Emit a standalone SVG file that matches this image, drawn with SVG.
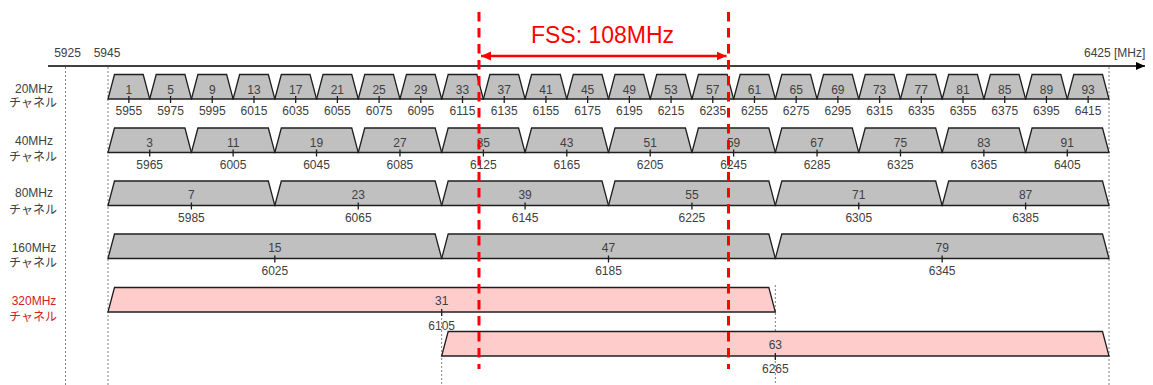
<svg xmlns="http://www.w3.org/2000/svg" xmlns:xlink="http://www.w3.org/1999/xlink" width="1153" height="385" viewBox="0 0 1153 385">
<style>
.band{fill:#c0c0c0;stroke:#1f1f1f;stroke-width:1.3;stroke-linejoin:miter}
.pink{fill:#ffcccc;stroke:#1f1f1f;stroke-width:1.3;stroke-linejoin:miter}
.tick{stroke:#1f1f1f;stroke-width:1.3;fill:none}
.t{font-family:"Liberation Sans",Arial,sans-serif;font-size:12px;fill:#404040;text-anchor:middle}
.lbl{font-family:"Liberation Sans","Noto Sans CJK JP",sans-serif;font-size:12px;fill:#404040;text-anchor:middle}
.red{fill:#d42020}
.guide{stroke:#808080;stroke-width:1;stroke-dasharray:2 2;fill:none}
.fssline{stroke:#ff0000;stroke-width:3;stroke-dasharray:9.5 6.5;fill:none}
</style>
<defs>
<g id="c20"><path class="band" d="M0,24.5 L6.5,0 H35.21 L41.71,24.5 Z"/><path class="tick" d="M20.85,21.5 V28.5"/></g>
<g id="c40"><path class="band" d="M0,24.5 L6.5,0 H76.92 L83.42,24.5 Z"/><path class="tick" d="M41.71,21.5 V28.5"/></g>
<g id="c80"><path class="band" d="M0,24.5 L6.5,0 H160.33 L166.83,24.5 Z"/><path class="tick" d="M83.42,21.5 V28.5"/></g>
<g id="c160"><path class="band" d="M0,24.5 L6.5,0 H327.17 L333.67,24.5 Z"/><path class="tick" d="M166.83,21.5 V28.5"/></g>
<g id="c320"><path class="pink" d="M0,24.5 L6.5,0 H660.83 L667.33,24.5 Z"/><path class="tick" d="M333.67,21.5 V28.5"/></g>
<marker id="ah" viewBox="0 0 10 10" refX="10" refY="5" markerWidth="10" markerHeight="10" markerUnits="userSpaceOnUse" orient="auto-start-reverse"><path d="M0,0.5 L10,5 L0,9.5 Z" fill="#ff0000"/></marker>
<marker id="axh" viewBox="0 0 10 10" refX="10" refY="5" markerWidth="9" markerHeight="9" markerUnits="userSpaceOnUse" orient="auto"><path d="M0,0.5 L10,5 L0,9.5 Z" fill="#000"/></marker>
</defs>

<g id="guides">
<path class="guide" d="M65.5,67 V385 M108,67 V385 M1109,67 V385 M441.67,314 V385 M775.33,285 V385"/>
</g>

<g id="axis">
<path d="M48,66 H1145" stroke="#000" stroke-width="1.5" marker-end="url(#axh)"/>
<text class="t" x="67.5" y="57">5925</text>
<text class="t" x="107" y="57">5945</text>
<text class="t" x="1084" y="57" style="text-anchor:start">6425 [MHz]</text>
</g>

<g id="row-labels">
<text class="lbl" x="34" y="93">20MHz</text><text class="lbl" x="33" y="107">チャネル</text>
<text class="lbl" x="34" y="145">40MHz</text><text class="lbl" x="33" y="161">チャネル</text>
<text class="lbl" x="34" y="197">80MHz</text><text class="lbl" x="33" y="214">チャネル</text>
<text class="lbl" x="34" y="252">160MHz</text><text class="lbl" x="33" y="266.5">チャネル</text>
<text class="lbl red" x="34" y="305">320MHz</text><text class="lbl red" x="33" y="320.5">チャネル</text>
</g>

<g id="row20">
<g id="ch1" transform="translate(108,74.5)"><use href="#c20"/><text class="t" x="20.85" y="19">1</text><text class="t" x="20.85" y="40.5">5955</text></g>
<g id="ch5" transform="translate(149.71,74.5)"><use href="#c20"/><text class="t" x="20.85" y="19">5</text><text class="t" x="20.85" y="40.5">5975</text></g>
<g id="ch9" transform="translate(191.42,74.5)"><use href="#c20"/><text class="t" x="20.85" y="19">9</text><text class="t" x="20.85" y="40.5">5995</text></g>
<g id="ch13" transform="translate(233.13,74.5)"><use href="#c20"/><text class="t" x="20.85" y="19">13</text><text class="t" x="20.85" y="40.5">6015</text></g>
<g id="ch17" transform="translate(274.83,74.5)"><use href="#c20"/><text class="t" x="20.85" y="19">17</text><text class="t" x="20.85" y="40.5">6035</text></g>
<g id="ch21" transform="translate(316.54,74.5)"><use href="#c20"/><text class="t" x="20.85" y="19">21</text><text class="t" x="20.85" y="40.5">6055</text></g>
<g id="ch25" transform="translate(358.25,74.5)"><use href="#c20"/><text class="t" x="20.85" y="19">25</text><text class="t" x="20.85" y="40.5">6075</text></g>
<g id="ch29" transform="translate(399.96,74.5)"><use href="#c20"/><text class="t" x="20.85" y="19">29</text><text class="t" x="20.85" y="40.5">6095</text></g>
<g id="ch33" transform="translate(441.67,74.5)"><use href="#c20"/><text class="t" x="20.85" y="19">33</text><text class="t" x="20.85" y="40.5">6115</text></g>
<g id="ch37" transform="translate(483.38,74.5)"><use href="#c20"/><text class="t" x="20.85" y="19">37</text><text class="t" x="20.85" y="40.5">6135</text></g>
<g id="ch41" transform="translate(525.08,74.5)"><use href="#c20"/><text class="t" x="20.85" y="19">41</text><text class="t" x="20.85" y="40.5">6155</text></g>
<g id="ch45" transform="translate(566.79,74.5)"><use href="#c20"/><text class="t" x="20.85" y="19">45</text><text class="t" x="20.85" y="40.5">6175</text></g>
<g id="ch49" transform="translate(608.5,74.5)"><use href="#c20"/><text class="t" x="20.85" y="19">49</text><text class="t" x="20.85" y="40.5">6195</text></g>
<g id="ch53" transform="translate(650.21,74.5)"><use href="#c20"/><text class="t" x="20.85" y="19">53</text><text class="t" x="20.85" y="40.5">6215</text></g>
<g id="ch57" transform="translate(691.92,74.5)"><use href="#c20"/><text class="t" x="20.85" y="19">57</text><text class="t" x="20.85" y="40.5">6235</text></g>
<g id="ch61" transform="translate(733.63,74.5)"><use href="#c20"/><text class="t" x="20.85" y="19">61</text><text class="t" x="20.85" y="40.5">6255</text></g>
<g id="ch65" transform="translate(775.33,74.5)"><use href="#c20"/><text class="t" x="20.85" y="19">65</text><text class="t" x="20.85" y="40.5">6275</text></g>
<g id="ch69" transform="translate(817.04,74.5)"><use href="#c20"/><text class="t" x="20.85" y="19">69</text><text class="t" x="20.85" y="40.5">6295</text></g>
<g id="ch73" transform="translate(858.75,74.5)"><use href="#c20"/><text class="t" x="20.85" y="19">73</text><text class="t" x="20.85" y="40.5">6315</text></g>
<g id="ch77" transform="translate(900.46,74.5)"><use href="#c20"/><text class="t" x="20.85" y="19">77</text><text class="t" x="20.85" y="40.5">6335</text></g>
<g id="ch81" transform="translate(942.17,74.5)"><use href="#c20"/><text class="t" x="20.85" y="19">81</text><text class="t" x="20.85" y="40.5">6355</text></g>
<g id="ch85" transform="translate(983.88,74.5)"><use href="#c20"/><text class="t" x="20.85" y="19">85</text><text class="t" x="20.85" y="40.5">6375</text></g>
<g id="ch89" transform="translate(1025.58,74.5)"><use href="#c20"/><text class="t" x="20.85" y="19">89</text><text class="t" x="20.85" y="40.5">6395</text></g>
<g id="ch93" transform="translate(1067.29,74.5)"><use href="#c20"/><text class="t" x="20.85" y="19">93</text><text class="t" x="20.85" y="40.5">6415</text></g>
</g>

<g id="row40">
<g id="ch3" transform="translate(108,128)"><use href="#c40"/><text class="t" x="41.71" y="18.5">3</text><text class="t" x="41.71" y="40.5">5965</text></g>
<g id="ch11" transform="translate(191.42,128)"><use href="#c40"/><text class="t" x="41.71" y="18.5">11</text><text class="t" x="41.71" y="40.5">6005</text></g>
<g id="ch19" transform="translate(274.83,128)"><use href="#c40"/><text class="t" x="41.71" y="18.5">19</text><text class="t" x="41.71" y="40.5">6045</text></g>
<g id="ch27" transform="translate(358.25,128)"><use href="#c40"/><text class="t" x="41.71" y="18.5">27</text><text class="t" x="41.71" y="40.5">6085</text></g>
<g id="ch35" transform="translate(441.67,128)"><use href="#c40"/><text class="t" x="41.71" y="18.5">35</text><text class="t" x="41.71" y="40.5">6125</text></g>
<g id="ch43" transform="translate(525.08,128)"><use href="#c40"/><text class="t" x="41.71" y="18.5">43</text><text class="t" x="41.71" y="40.5">6165</text></g>
<g id="ch51" transform="translate(608.5,128)"><use href="#c40"/><text class="t" x="41.71" y="18.5">51</text><text class="t" x="41.71" y="40.5">6205</text></g>
<g id="ch59" transform="translate(691.92,128)"><use href="#c40"/><text class="t" x="41.71" y="18.5">59</text><text class="t" x="41.71" y="40.5">6245</text></g>
<g id="ch67" transform="translate(775.33,128)"><use href="#c40"/><text class="t" x="41.71" y="18.5">67</text><text class="t" x="41.71" y="40.5">6285</text></g>
<g id="ch75" transform="translate(858.75,128)"><use href="#c40"/><text class="t" x="41.71" y="18.5">75</text><text class="t" x="41.71" y="40.5">6325</text></g>
<g id="ch83" transform="translate(942.17,128)"><use href="#c40"/><text class="t" x="41.71" y="18.5">83</text><text class="t" x="41.71" y="40.5">6365</text></g>
<g id="ch91" transform="translate(1025.58,128)"><use href="#c40"/><text class="t" x="41.71" y="18.5">91</text><text class="t" x="41.71" y="40.5">6405</text></g>
</g>

<g id="row80">
<g id="ch7" transform="translate(108,181)"><use href="#c80"/><text class="t" x="83.42" y="18">7</text><text class="t" x="83.42" y="40.5">5985</text></g>
<g id="ch23" transform="translate(274.83,181)"><use href="#c80"/><text class="t" x="83.42" y="18">23</text><text class="t" x="83.42" y="40.5">6065</text></g>
<g id="ch39" transform="translate(441.67,181)"><use href="#c80"/><text class="t" x="83.42" y="18">39</text><text class="t" x="83.42" y="40.5">6145</text></g>
<g id="ch55" transform="translate(608.5,181)"><use href="#c80"/><text class="t" x="83.42" y="18">55</text><text class="t" x="83.42" y="40.5">6225</text></g>
<g id="ch71" transform="translate(775.33,181)"><use href="#c80"/><text class="t" x="83.42" y="18">71</text><text class="t" x="83.42" y="40.5">6305</text></g>
<g id="ch87" transform="translate(942.17,181)"><use href="#c80"/><text class="t" x="83.42" y="18">87</text><text class="t" x="83.42" y="40.5">6385</text></g>
</g>

<g id="row160">
<g id="ch15" transform="translate(108,234)"><use href="#c160"/><text class="t" x="166.83" y="18">15</text><text class="t" x="166.83" y="40.5">6025</text></g>
<g id="ch47" transform="translate(441.67,234)"><use href="#c160"/><text class="t" x="166.83" y="18">47</text><text class="t" x="166.83" y="40.5">6185</text></g>
<g id="ch79" transform="translate(775.33,234)"><use href="#c160"/><text class="t" x="166.83" y="18">79</text><text class="t" x="166.83" y="40.5">6345</text></g>
</g>

<g id="row320">
<g id="ch31" transform="translate(108,287.5)"><use href="#c320"/><text class="t" x="333.67" y="17.5">31</text><text class="t" x="333.67" y="42.5">6105</text></g>
<g id="ch63" transform="translate(441.67,331.5)"><use href="#c320"/><text class="t" x="333.67" y="17.5">63</text><text class="t" x="333.67" y="41.5">6265</text></g>
</g>

<g id="connectors">
<path class="fssline" d="M479,12 V369 M728.5,12 V369"/>
<path d="M481,56 H726.5" stroke="#ff0000" stroke-width="2.5" marker-start="url(#ah)" marker-end="url(#ah)"/>
</g>
<g id="fss-label">
<text x="602.5" y="43" style="font-family:'Liberation Sans',Arial,sans-serif;font-size:23px;fill:#ff0000;text-anchor:middle">FSS: 108MHz</text>
</g>
</svg>
